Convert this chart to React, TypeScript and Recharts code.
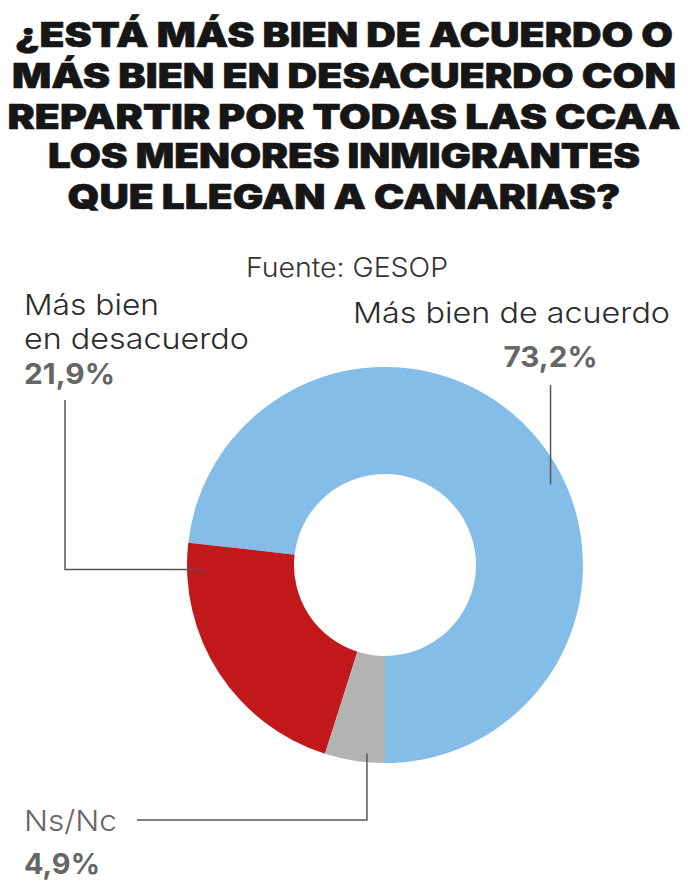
// App.tsx
// ─── Donut: reparto de menores inmigrantes (GESOP) ───────────────────────────

import { PieChart, Pie, Cell } from "recharts";

const categories = ["Más bien de acuerdo", "Más bien en desacuerdo", "Ns/Nc"];
const values = [73.2, 21.9, 4.9];
const valueLabels = ["73,2%", "21,9%", "4,9%"];
const colors = ["#84BEE8", "#C1181B", "#B3B3B3"];

const titleLines = [
  "¿ESTÁ MÁS BIEN DE ACUERDO O",
  "MÁS BIEN EN DESACUERDO CON",
  "REPARTIR POR TODAS LAS CCAA",
  "LOS MENORES INMIGRANTES",
  "QUE LLEGAN A CANARIAS?",
];
const source = "Fuente: GESOP";

const W = 688;
const H = 887;
const LINE = "#555555";
const LABEL_FONT = "Inter, 'Noto Sans', sans-serif";

const titleWidths = [658, 664, 673, 592, 553];
const titleBaselines = [47, 88, 128.5, 168, 209];

const data = categories.map((name, i) => ({
  name,
  value: values[i],
  pct: valueLabels[i],
}));

// where each leader line touches its slice: fraction along the arc / ring
const anchors = [
  { t: 0.44, r: 0.87 },
  { t: 0.1, r: 0.82 },
  { t: 0.69, r: 0.92 },
];

const RAD = Math.PI / 180;

function SliceLabel(props: any) {
  const { cx, cy, innerRadius, outerRadius, startAngle, endAngle, index } = props;
  const a = anchors[index];
  const ang = startAngle + (endAngle - startAngle) * a.t;
  const rr = innerRadius + (outerRadius - innerRadius) * a.r;
  const ax = cx + rr * Math.cos(ang * RAD);
  const ay = cy - rr * Math.sin(ang * RAD);

  if (index === 0) {
    return (
      <g>
        <polyline
          points={`${ax},${ay} ${ax},385`}
          fill="none"
          stroke={LINE}
          strokeWidth={1.5}
        />
        <text
          x={353}
          y={323}
          textLength={317}
          lengthAdjust="spacingAndGlyphs"
          fontFamily={LABEL_FONT}
          fontWeight={300}
          fontSize={28}
          fill="#2b2b2b"
        >
          {data[0].name}
        </text>
        <text
          x={ax}
          y={367}
          textAnchor="middle"
          textLength={94}
          lengthAdjust="spacingAndGlyphs"
          fontFamily={LABEL_FONT}
          fontWeight={700}
          fontSize={29}
          fill="#666666"
        >
          {data[0].pct}
        </text>
      </g>
    );
  }

  if (index === 1) {
    return (
      <g>
        <polyline
          points={`${ax},${ay} 65,${ay} 65,400`}
          fill="none"
          stroke={LINE}
          strokeWidth={1.5}
        />
        <text
          x={24}
          y={315}
          textLength={135}
          lengthAdjust="spacingAndGlyphs"
          fontFamily={LABEL_FONT}
          fontWeight={300}
          fontSize={29}
          fill="#2b2b2b"
        >
          Más bien
        </text>
        <text
          x={24}
          y={349}
          textLength={225}
          lengthAdjust="spacingAndGlyphs"
          fontFamily={LABEL_FONT}
          fontWeight={300}
          fontSize={29}
          fill="#2b2b2b"
        >
          en desacuerdo
        </text>
        <text
          x={24}
          y={384}
          textLength={91}
          lengthAdjust="spacingAndGlyphs"
          fontFamily={LABEL_FONT}
          fontWeight={700}
          fontSize={29}
          fill="#666666"
        >
          {data[1].pct}
        </text>
      </g>
    );
  }

  return (
    <g>
      <polyline
        points={`${ax},${ay} ${ax},820 137,820`}
        fill="none"
        stroke={LINE}
        strokeWidth={1.5}
      />
      <text
        x={24}
        y={831}
        textLength={93}
        lengthAdjust="spacingAndGlyphs"
        fontFamily={LABEL_FONT}
        fontWeight={300}
        fontSize={29}
        fill="#666666"
      >
        {data[2].name}
      </text>
      <text
        x={24}
        y={874}
        textLength={76}
        lengthAdjust="spacingAndGlyphs"
        fontFamily={LABEL_FONT}
        fontWeight={700}
        fontSize={29}
        fill="#666666"
      >
        {data[2].pct}
      </text>
    </g>
  );
}

export default function App() {
  return (
    <div style={{ position: "relative", width: W, height: H, background: "#fff" }}>
      <style>{`body{margin:0}`}</style>
      <svg
        width={W}
        height={H}
        style={{ position: "absolute", left: 0, top: 0 }}
      >
        {titleLines.map((line, i) => (
          <text
            key={line}
            x={W / 2}
            y={titleBaselines[i]}
            textAnchor="middle"
            textLength={titleWidths[i]}
            lengthAdjust="spacingAndGlyphs"
            fontFamily="Inter, Roboto, sans-serif"
            fontWeight={900}
            fontSize={34}
            fill="#161616"
            stroke="#161616"
            strokeWidth={0.6}
          >
            {line}
          </text>
        ))}
        <text
          x={347}
          y={277}
          textAnchor="middle"
          textLength={202}
          lengthAdjust="spacingAndGlyphs"
          fontFamily={LABEL_FONT}
          fontWeight={300}
          fontSize={27}
          fill="#333333"
        >
          {source}
        </text>
      </svg>
      <div style={{ position: "absolute", left: 0, top: 0 }}>
        <PieChart
          width={W}
          height={H}
          margin={{ top: 0, right: 0, bottom: 0, left: 0 }}
        >
          <Pie
            data={data}
            dataKey="value"
            nameKey="name"
            cx={385}
            cy={565}
            innerRadius={91}
            outerRadius={198}
            startAngle={-90}
            endAngle={270}
            stroke="none"
            label={SliceLabel}
            labelLine={false}
            isAnimationActive={false}
          >
            {data.map((d, i) => (
              <Cell key={d.name} fill={colors[i]} />
            ))}
          </Pie>
        </PieChart>
      </div>
    </div>
  );
}
